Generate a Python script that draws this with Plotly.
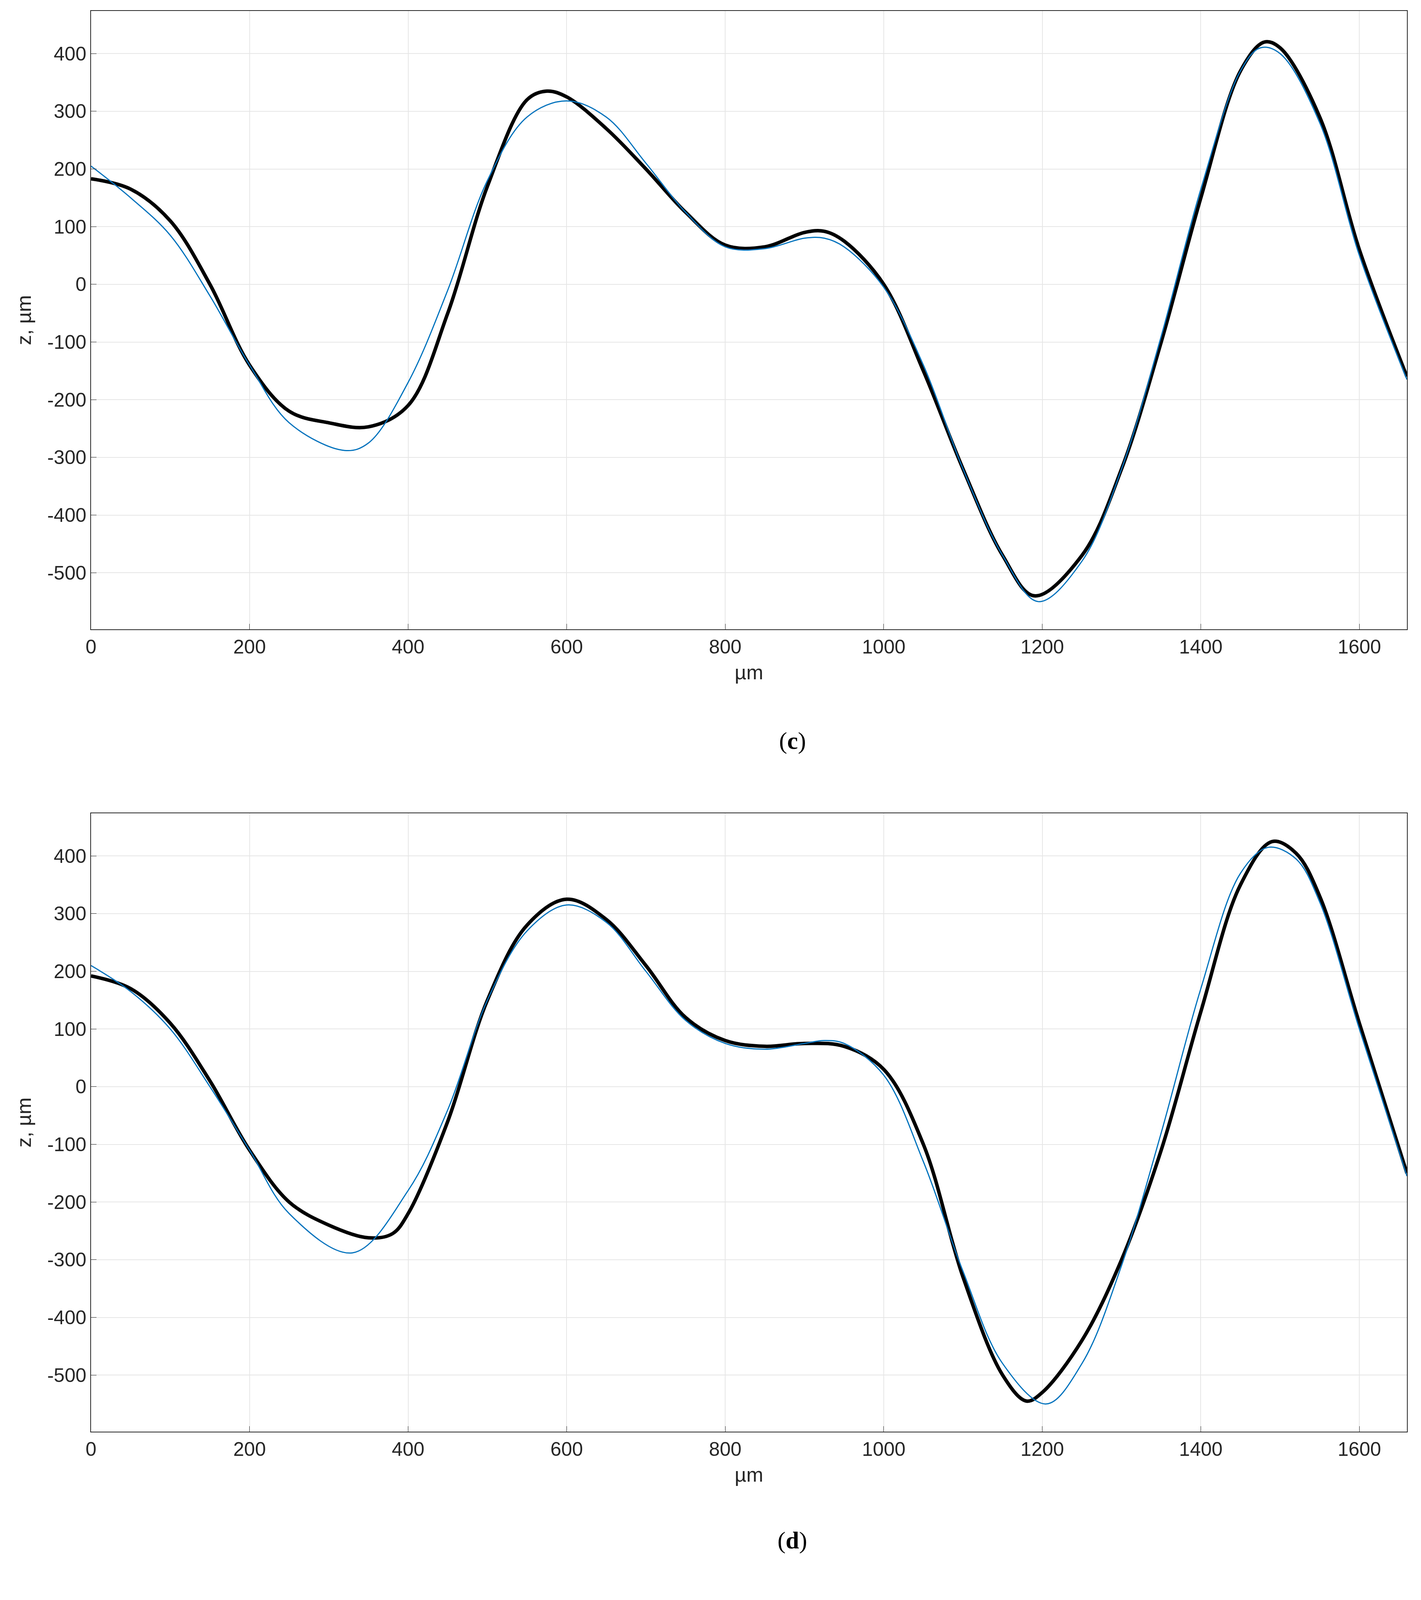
import plotly.graph_objects as go

xc_k=[0,50,100,150,200,250,300,350,400,450,500,550,575,600,650,700,750,800,850,900,925,950,1000,1050,1100,1150,1190,1250,1300,1350,1400,1450,1480,1500,1550,1600,1660]
yc_k=[183,165,110,0,-140,-220,-240,-247,-210,-50,170,320,335,325,270,200,125,68,65,90,92,75,0,-150,-320,-470,-540,-470,-320,-100,150,370,420,410,290,60,-160]
xc_b=[0,50,100,150,200,250,320,350,400,450,500,550,600,650,700,750,800,850,900,925,950,1000,1050,1100,1150,1195,1250,1300,1350,1400,1450,1475,1500,1550,1600,1660]
yc_b=[205,150,85,-20,-140,-240,-288,-275,-170,-10,180,290,318,290,210,125,65,62,80,80,65,-5,-140,-320,-470,-550,-480,-320,-90,165,370,410,400,280,50,-165]
xd_k=[0,50,100,150,200,250,300,350,380,400,450,500,550,600,650,700,750,800,850,900,950,1000,1050,1100,1150,1180,1200,1250,1300,1350,1400,1450,1490,1520,1550,1600,1660]
yd_k=[192,170,110,10,-110,-200,-240,-262,-255,-220,-60,150,280,325,290,210,120,80,70,75,70,30,-100,-330,-500,-545,-530,-440,-300,-110,130,350,425,405,330,110,-150]
xd_b=[0,50,100,150,200,250,330,400,450,500,550,600,650,700,750,800,850,900,925,950,1000,1050,1100,1150,1205,1250,1300,1350,1400,1450,1485,1520,1550,1600,1660]
yd_b=[210,165,100,0,-110,-220,-288,-180,-40,150,270,315,285,200,115,75,65,75,80,75,20,-130,-320,-480,-550,-480,-310,-80,170,370,415,395,320,100,-155]
x_ticks=[0,200,400,600,800,1000,1200,1400,1600]
y_ticks=[-500,-400,-300,-200,-100,0,100,200,300,400]

H=3990
fig=go.Figure()
ax=dict(showline=True,linecolor='#262626',linewidth=2,mirror=True,showgrid=True,gridcolor='#e6e6e6',gridwidth=2,
        zeroline=False,ticks='inside',ticklen=14,tickcolor='#262626',tickfont=dict(size=50,color='#262626'),
        title_font=dict(size=52,color='#262626'))
doms=[(20,1603),(2074,3657)]
for i,(xk,yk,xb,yb) in enumerate([(xc_k,yc_k,xc_b,yc_b),(xd_k,yd_k,xd_b,yd_b)]):
    s='' if i==0 else '2'
    fig.add_trace(go.Scatter(x=xk,y=yk,mode='lines',line=dict(color='black',width=9,shape='spline'),showlegend=False,xaxis='x'+s,yaxis='y'+s))
    fig.add_trace(go.Scatter(x=xb,y=yb,mode='lines',line=dict(color='#0072BD',width=3,shape='spline'),showlegend=False,xaxis='x'+s,yaxis='y'+s))
    t,b=doms[i]
    fig.layout['xaxis'+s]=dict(ax,range=[0,1660],tickvals=x_ticks,title_text='µm',title_standoff=20,anchor='y'+s,domain=[0,1])
    fig.layout['yaxis'+s]=dict(ax,range=[-598,474],tickvals=y_ticks,ticktext=[str(v) for v in y_ticks],title_text='z, µm',
        title_standoff=25,anchor='x'+s,domain=[1-b/H,1-t/H])
fig.update_layout(width=3620,height=H,plot_bgcolor='white',paper_bgcolor='white',
    font=dict(family='Liberation Sans, Arial',color='#262626'),
    margin=dict(l=225,r=27,t=0,b=0))
for t,y in [('(<b>c</b>)',1888),('(<b>d</b>)',3935)]:
    fig.add_annotation(text=t,x=0.533,y=1-y/H,xref='paper',yref='paper',yanchor='middle',showarrow=False,
        font=dict(family='Liberation Serif',size=62,color='black'),xanchor='center')
fig.write_html('out.html')
